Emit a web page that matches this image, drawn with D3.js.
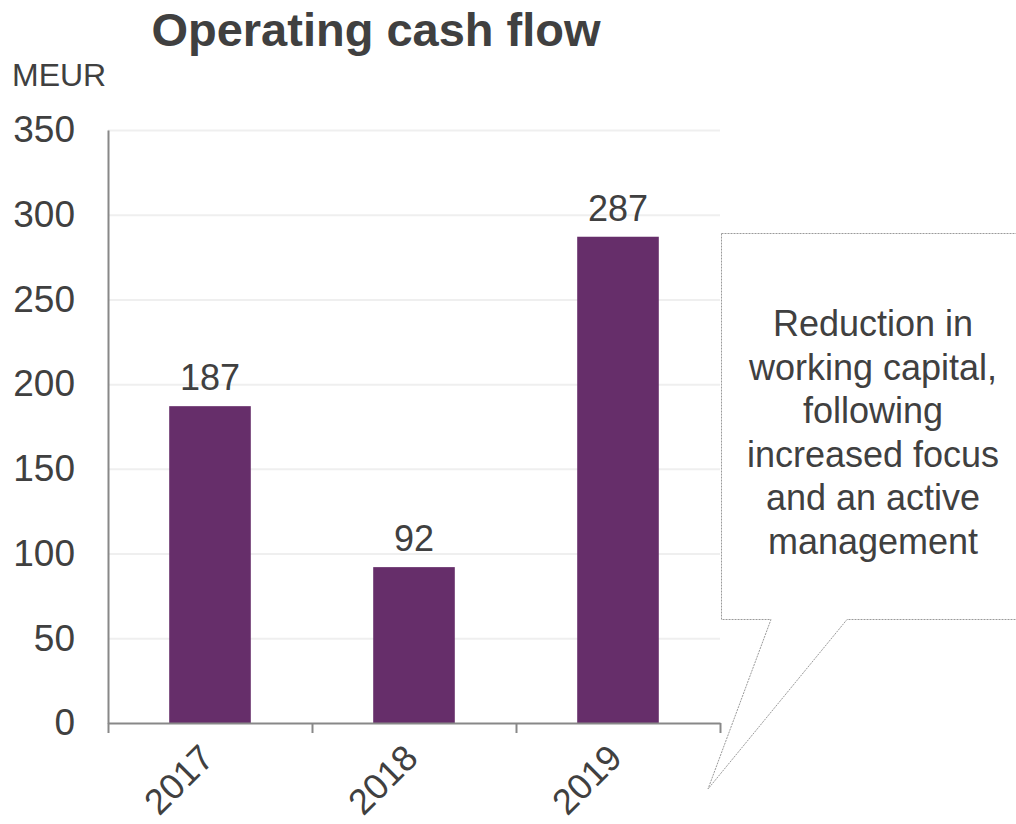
<!DOCTYPE html>
<html>
<head>
<meta charset="utf-8">
<script src="https://cdn.jsdelivr.net/npm/d3@7"></script>
<style>
  html, body { margin: 0; padding: 0; background: #ffffff; }
  svg { display: block; font-family: "Liberation Sans", Arial, sans-serif; }
</style>
</head>
<body>
<svg id="chart" width="1016" height="824"></svg>
<script>
// Operating cash flow, MEUR
const years = ["2017", "2018", "2019"];
const cashFlow = [187, 92, 287];
const yTicks = [0, 50, 100, 150, 200, 250, 300, 350];
const calloutLines = [
  "Reduction in",
  "working capital,",
  "following",
  "increased focus",
  "and an active",
  "management"
];

const textColor = "#404040";
const barColor = "#662e6a";
const axisColor = "#888888";
const gridColor = "#efefef";

const svg = d3.select("#chart");
const plot = { left: 108, right: 720, top: 130, bottom: 723 };

const x = d3.scaleBand().domain(years).range([plot.left, plot.right]).padding(0);
const xEdge = d3.scaleLinear().domain([0, years.length]).range([plot.left, plot.right]);
const y = d3.scaleLinear().domain([0, 350]).range([plot.bottom, plot.top]);
const barW = x.bandwidth() * 0.4;

// Horizontal gridlines
svg.append("g")
  .attr("transform", `translate(${plot.left},0)`)
  .call(d3.axisLeft(y).tickValues(yTicks.slice(1)).tickSize(-(plot.right - plot.left)).tickFormat(""))
  .call(g => g.select(".domain").remove())
  .call(g => g.selectAll(".tick line").attr("stroke", gridColor).attr("stroke-width", 2));

// Bars
svg.append("g").selectAll("rect")
  .data(years.map((yr, i) => ({ yr, v: cashFlow[i] })))
  .join("rect")
  .attr("x", d => x(d.yr) + (x.bandwidth() - barW) / 2)
  .attr("width", barW)
  .attr("y", d => y(d.v))
  .attr("height", d => y(0) - y(d.v))
  .attr("fill", barColor);

// Value labels
svg.append("g").selectAll("text")
  .data(years.map((yr, i) => ({ yr, v: cashFlow[i] })))
  .join("text")
  .attr("x", d => x(d.yr) + x.bandwidth() / 2)
  .attr("y", d => y(d.v) - 16)
  .attr("text-anchor", "middle")
  .attr("font-size", 36)
  .attr("fill", textColor)
  .text(d => d.v);

// Y axis
svg.append("g")
  .attr("transform", `translate(${plot.left},0)`)
  .call(d3.axisLeft(y).tickValues(yTicks).tickSize(0).tickPadding(33))
  .call(g => g.select(".domain").attr("stroke", axisColor).attr("stroke-width", 2))
  .call(g => g.selectAll(".tick text")
    .attr("font-size", 37)
    .attr("font-family", "Liberation Sans, Arial, sans-serif")
    .attr("fill", textColor));

// X axis line with ticks at category boundaries
svg.append("g")
  .attr("transform", `translate(0,${plot.bottom})`)
  .call(d3.axisBottom(xEdge).tickValues(d3.range(years.length + 1)).tickSize(10).tickSizeOuter(0).tickFormat(""))
  .call(g => g.select(".domain").attr("stroke", axisColor).attr("stroke-width", 2))
  .call(g => g.selectAll(".tick line").attr("stroke", axisColor).attr("stroke-width", 2));

// Rotated year labels
svg.append("g").selectAll("text")
  .data(years)
  .join("text")
  .attr("transform", d => `translate(${x(d) + x.bandwidth() / 2 + 6},${plot.bottom + 37}) rotate(-45)`)
  .attr("text-anchor", "end")
  .attr("font-size", 36)
  .attr("fill", textColor)
  .text(d => d);

// Title and unit
svg.append("text")
  .attr("x", 376).attr("y", 46)
  .attr("text-anchor", "middle")
  .attr("font-size", 47)
  .attr("font-weight", "bold")
  .attr("fill", textColor)
  .text("Operating cash flow");

svg.append("text")
  .attr("x", 12).attr("y", 86)
  .attr("font-size", 32)
  .attr("fill", textColor)
  .text("MEUR");

// Callout box with tail
const box = { left: 721.5, top: 233.5, right: 1022, bottom: 619.5 };
const tail = { a: 771, b: 847, tipX: 708, tipY: 789 };
const p = d3.path();
p.moveTo(box.left, box.top);
p.lineTo(box.right, box.top);
p.lineTo(box.right, box.bottom);
p.lineTo(tail.b, box.bottom);
p.lineTo(tail.tipX, tail.tipY);
p.lineTo(tail.a, box.bottom);
p.lineTo(box.left, box.bottom);
p.closePath();
svg.append("path")
  .attr("d", p.toString())
  .attr("fill", "#ffffff")
  .attr("stroke", "#9a9a9a")
  .attr("stroke-width", 1)
  .attr("stroke-dasharray", "2,1");

svg.append("g").selectAll("text")
  .data(calloutLines)
  .join("text")
  .attr("x", 873)
  .attr("y", (d, i) => 336 + i * 43.5)
  .attr("text-anchor", "middle")
  .attr("font-size", 36)
  .attr("fill", textColor)
  .text(d => d);
</script>
</body>
</html>
